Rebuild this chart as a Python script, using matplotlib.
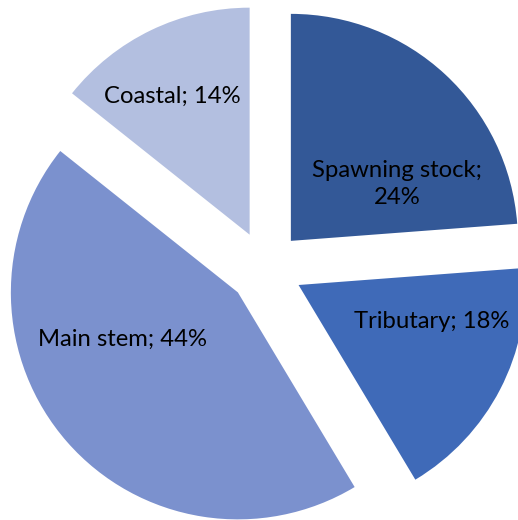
import matplotlib
matplotlib.use("Agg")
import matplotlib.pyplot as plt

categories = ["Spawning stock", "Tributary", "Main stem", "Coastal"]
values = [23.8, 17.6, 44.3, 14.3]
colors = ["#335897", "#3F6AB8", "#7B91CE", "#B3BFE0"]
label_texts = ["Spawning stock;\n24%", "Tributary; 18%", "Main stem; 44%", "Coastal; 14%"]

W, H = 518, 520
R = 227.0              # pie radius in pixels
CX, CY = 265.7, 268.0  # pie centre in pixels (from top-left)
EXPLODE = 37.0 / R

fig = plt.figure(figsize=(W / 100, H / 100), dpi=100)
ax = fig.add_axes([0, 0, 1, 1])
ax.pie(values, colors=colors, startangle=90, counterclock=False,
       explode=[EXPLODE] * len(values), radius=1.0,
       wedgeprops=dict(linewidth=0))
ax.set_xlim(-CX / R, (W - CX) / R)
ax.set_ylim(-(H - CY) / R, CY / R)
ax.set_aspect("auto")
ax.axis("off")

def px(x, y):
    return (x - CX) / R, (CY - y) / R

label_px = [(397, 184), (432, 322), (122, 339), (172, 96)]
for (x, y), t in zip(label_px, label_texts):
    ax.text(*px(x, y), t, ha="center", va="center", fontsize=17.2,
            family=["Lato", "DejaVu Sans"], color="black", linespacing=1.35)

fig.savefig("out.png", dpi=100)
